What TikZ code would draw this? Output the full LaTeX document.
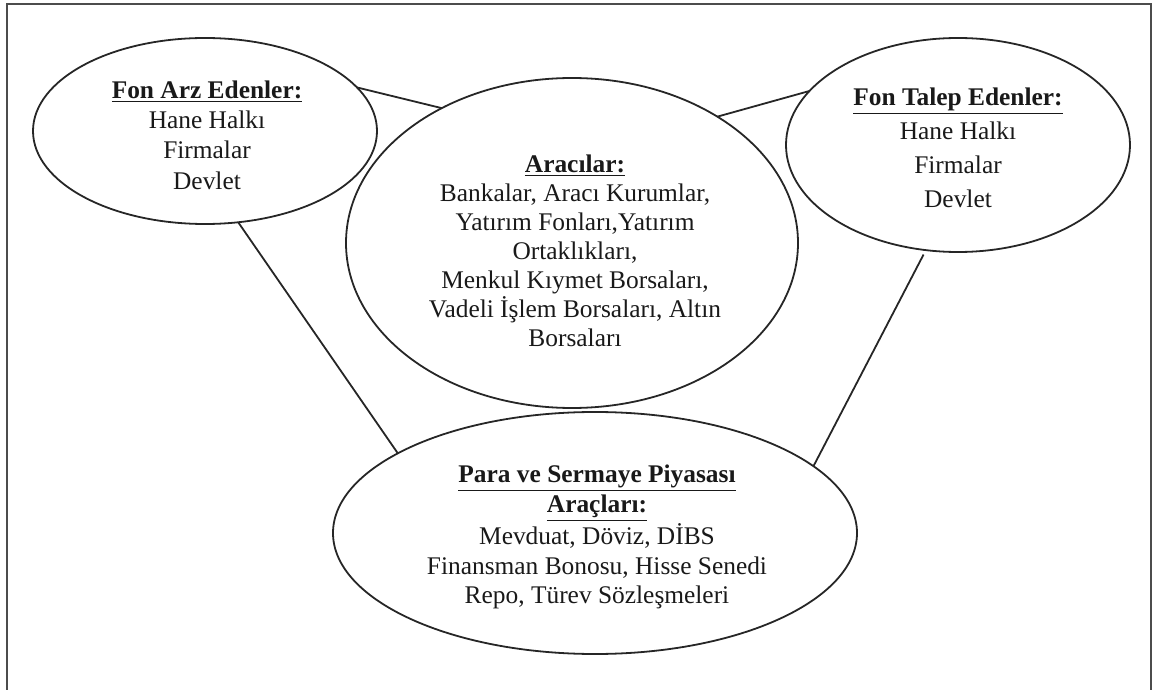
\documentclass[tikz,border=0pt]{standalone}
\usepackage{fontspec}
\setmainfont{Liberation Serif}
\usetikzlibrary{shapes.geometric}
\begin{document}
\begin{tikzpicture}[x=0.5pt,y=-0.5pt,
  bubble/.style={ellipse, draw=black!85, line width=0.9pt, inner sep=0pt, outer sep=0pt},
  bubbletext/.style={align=center, inner sep=0pt, text=black!90},
  link/.style={draw=black!85, line width=0.9pt}]
\useasboundingbox (0,0) rectangle (1153,690);
% open frame (left, top, right)
\draw[line width=1pt, black!70] (7,690) -- (7,4) -- (1151,4) -- (1151,690);

% ellipses
\node[bubble, minimum width=172pt, minimum height=93pt] (supply) at (205,131) {};
\node[bubble, minimum width=226pt, minimum height=165pt] (mid) at (572,243) {};
\node[bubble, minimum width=172pt, minimum height=107pt] (demand) at (958,145) {};
\node[bubble, minimum width=262pt, minimum height=121pt] (instr) at (595,533) {};

% texts
\node[bubbletext, font=\fontsize{12.7}{15.2}\selectfont] (supplyT) at (207,135)
  {\underline{\textbf{Fon Arz Edenler:}}\\Hane Halkı\\Firmalar\\Devlet};
\node[bubbletext, font=\fontsize{12.7}{17}\selectfont] (demandT) at (958,148)
  {\underline{\textbf{Fon Talep Edenler:}}\\Hane Halkı\\Firmalar\\Devlet};
\node[bubbletext, font=\fontsize{12.7}{14.5}\selectfont] (midT) at (575,251)
  {\underline{\textbf{Aracılar:}}\\Bankalar, Aracı Kurumlar,\\Yatırım Fonları,Yatırım\\Ortaklıkları,\\Menkul Kıymet Borsaları,\\Vadeli İşlem Borsaları, Altın\\Borsaları};
\node[bubbletext, font=\fontsize{12.7}{14.8}\selectfont] (instrT) at (597,537)
  {\underline{\textbf{Para ve Sermaye Piyasası}}\\\underline{\textbf{Araçları:}}\\Mevduat, Döviz, DİBS\\Finansman Bonosu, Hisse Senedi\\Repo, Türev Sözleşmeleri};

% connectors
\draw[link] (supply.16.6) -- (mid.134.6);
\draw[link] (mid.41.7) -- (demand.160.4);
\draw[link] (supply.-70.2) -- (instr.158.4);
\draw[link, shorten <=2.5pt] (demand.-107.4) -- (instr.17.2);
\end{tikzpicture}
\end{document}
